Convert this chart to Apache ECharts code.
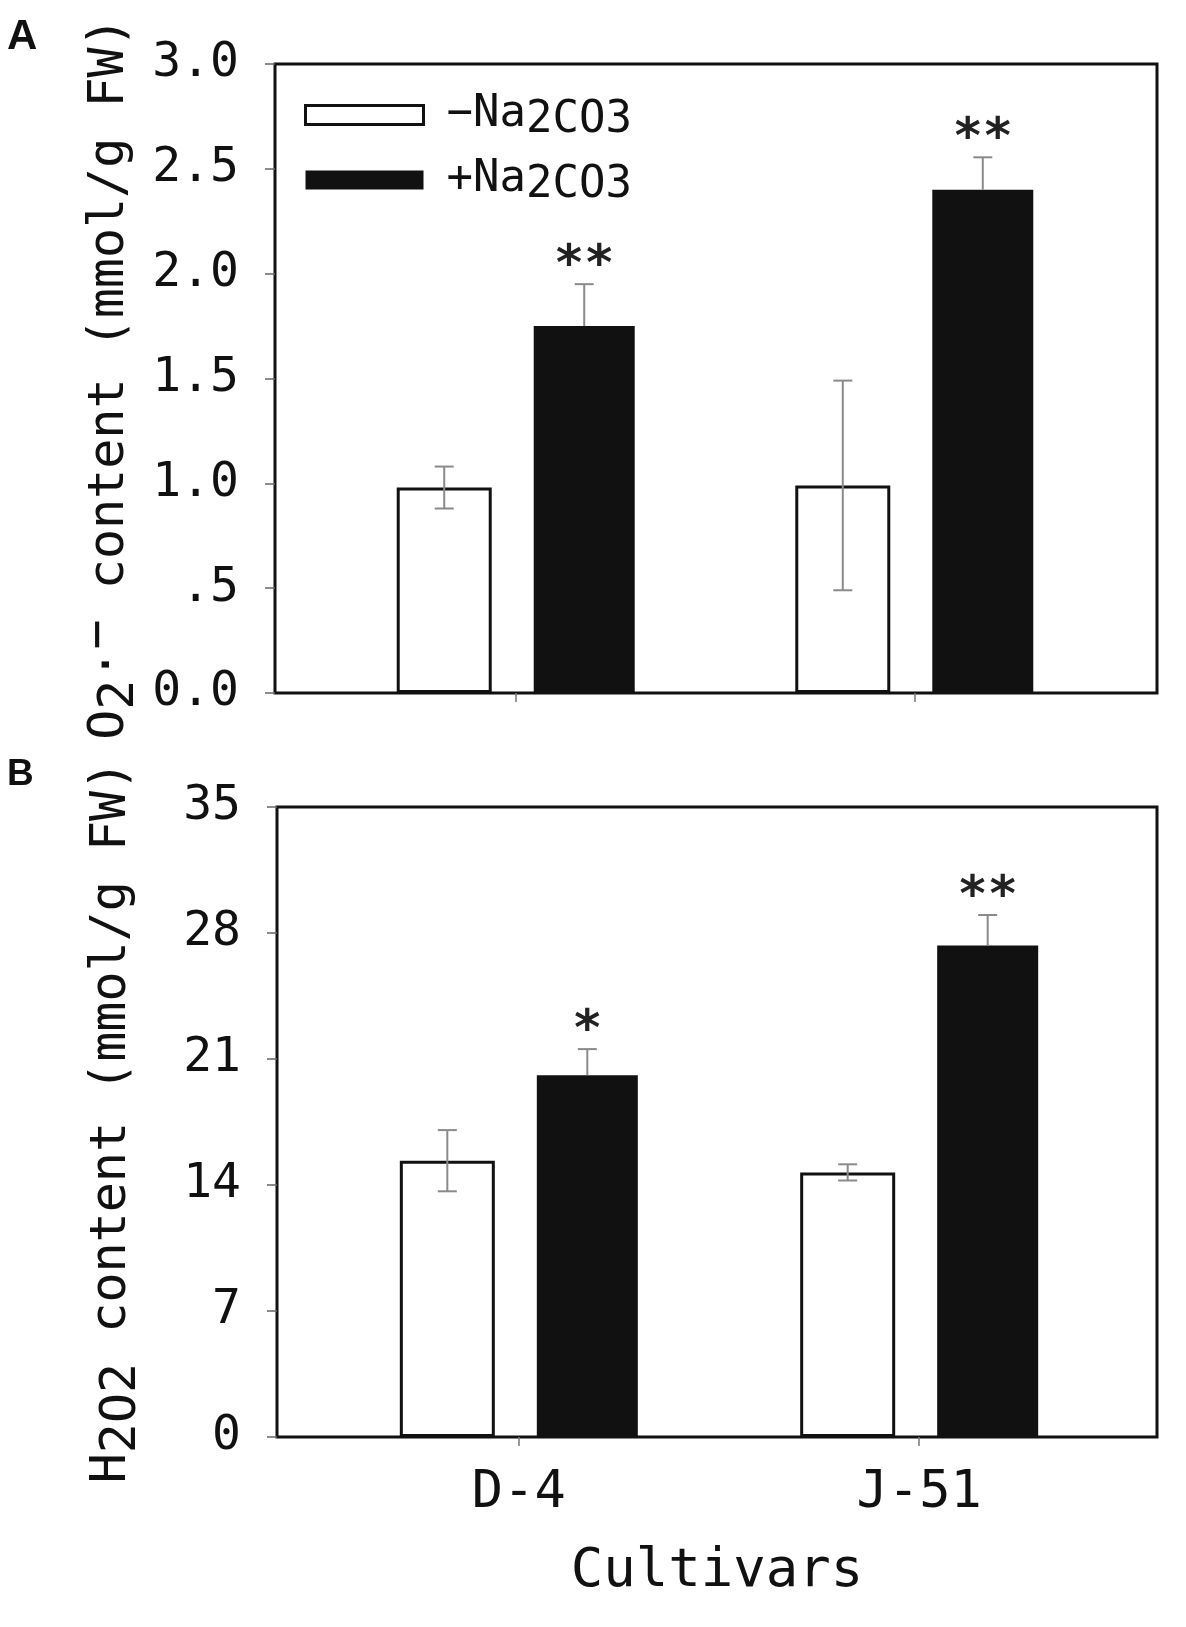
<!DOCTYPE html>
<html>
<head>
<meta charset="utf-8">
<script src="https://cdn.jsdelivr.net/npm/echarts@6/dist/echarts.min.js"></script>
<style>
html,body{margin:0;padding:0;background:#fff;}
#chart{width:1186px;height:1627px;}
</style>
</head>
<body>
<div id="chart"></div>
<script>
// ---------- data ----------
const cultivars = ['D-4', 'J-51'];
const seriesNames = ['\u2212Na2CO3', '+Na2CO3'];

// Panel A: O2·− content (mmol/g FW)
const o2Minus = [0.98, 0.99];
const o2MinusErr = [0.10, 0.50];
const o2Plus = [1.75, 2.40];
const o2PlusErr = [0.20, 0.155];
const o2MinusSig = ['', ''];
const o2PlusSig = ['**', '**'];
const yTicksA = [0, 0.5, 1, 1.5, 2, 2.5, 3];
const yTickLabelsA = ['0.0', '.5', '1.0', '1.5', '2.0', '2.5', '3.0'];

// Panel B: H2O2 content (mmol/g FW)
const h2o2Minus = [15.35, 14.7];
const h2o2MinusErr = [1.7, 0.45];
const h2o2Plus = [20.1, 27.3];
const h2o2PlusErr = [1.45, 1.7];
const h2o2MinusSig = ['', ''];
const h2o2PlusSig = ['*', '**'];
const yTicksB = [0, 7, 14, 21, 28, 35];
const yTickLabelsB = ['0', '7', '14', '21', '28', '35'];

// ---------- style ----------
const MONO = "'DejaVu Sans Mono', monospace";
const INK = '#111';
const ERR = '#8a8a8a';
const barW = [95, 101];
const gapPx = 42;
const gapPct = (gapPx / barW[0] * 100) + '%';
const total = barW[0] + gapPx + barW[1];
const offMinus = -total / 2 + barW[0] / 2;
const offPlus = total / 2 - barW[1] / 2;
const catIdx = cultivars.map((c, i) => i);

function errRender(offset, sig, both) {
  return function (params, api) {
    const i = params.dataIndex;
    const x = api.value(0), v = api.value(1), e = api.value(2);
    const pTop = api.coord([x, v + e]);
    const pMid = api.coord([x, v]);
    const pBot = api.coord([x, v - e]);
    const cx = pMid[0] + offset;
    const cap = 19;
    const ls = { stroke: ERR, lineWidth: 2 };
    const ch = [
      { type: 'line', shape: { x1: cx, y1: pTop[1], x2: cx, y2: both ? pBot[1] : pMid[1] }, style: ls },
      { type: 'line', shape: { x1: cx - cap / 2, y1: pTop[1], x2: cx + cap / 2, y2: pTop[1] }, style: ls }
    ];
    if (both) ch.push({ type: 'line', shape: { x1: cx - cap / 2, y1: pBot[1], x2: cx + cap / 2, y2: pBot[1] }, style: ls });
    if (sig[i]) ch.push({ type: 'text', x: cx, y: pTop[1] - 17,
      style: { text: sig[i], fontFamily: MONO, fontWeight: 'bold', fontSize: 50, fill: '#222', align: 'center', verticalAlign: 'middle' } });
    return { type: 'group', children: ch };
  };
}

function titleRich(size) {
  const base = { fontFamily: MONO, fontSize: size, color: INK, lineHeight: 70 };
  return {
    n: Object.assign({}, base, { verticalAlign: 'middle' }),
    s: Object.assign({}, base, { verticalAlign: 'bottom' }),
    p: Object.assign({}, base, { verticalAlign: 'top' })
  };
}

const gridA = { left: 275, right: 29, top: 64, height: 629 };
const gridB = { left: 277, right: 29, top: 807, height: 630 };

function xAxisCfg(gridIndex, min, max, showLabels) {
  return {
    type: 'value', gridIndex, min, max,
    axisLine: { show: false, onZero: false },
    splitLine: { show: false },
    axisTick: { show: true, customValues: catIdx, length: 9, lineStyle: { color: '#777', width: 1.5 } },
    axisLabel: {
      show: showLabels, customValues: catIdx, margin: 30,
      formatter: v => cultivars[Math.round(v)] || '',
      fontFamily: MONO, fontSize: 52, color: INK
    }
  };
}

function yAxisCfg(gridIndex, max, interval, ticks, labels, name, nameSize) {
  return {
    type: 'value', gridIndex, min: 0, max, interval,
    axisLine: { show: false, onZero: false },
    splitLine: { show: false },
    axisTick: { show: true, length: 10, lineStyle: { color: '#666', width: 1.5 } },
    axisLabel: {
      margin: 36, fontFamily: MONO, fontSize: 48, color: INK,
      formatter: v => { const k = ticks.findIndex(t => Math.abs(t - v) < 1e-9); return k >= 0 ? labels[k] : ''; }
    },
    name, nameLocation: 'middle', nameRotate: 90, nameGap: 130, nameMoveOverlap: false,
    nameTextStyle: { fontFamily: MONO, fontSize: nameSize, color: INK, rich: titleRich(nameSize) }
  };
}

const xA = xAxisCfg(0, -0.604, 1.609, false);
const xB = xAxisCfg(1, -0.604, 1.594, true);
xB.name = 'Cultivars';
xB.nameLocation = 'middle';
xB.nameGap = 108;
xB.nameTextStyle = { fontFamily: MONO, fontSize: 54, color: INK };

const option = {
  animation: false,
  backgroundColor: '#fff',
  title: [
    { text: 'A', left: 7, top: 16, padding: 0, textStyle: { fontFamily: 'Liberation Sans, Arial, sans-serif', fontWeight: 'bold', fontSize: 42, color: INK } },
    { text: 'B', left: 7, top: 756, padding: 0, textStyle: { fontFamily: 'Liberation Sans, Arial, sans-serif', fontWeight: 'bold', fontSize: 37, color: INK } }
  ],
  legend: {
    orient: 'vertical', left: 304, top: 93, padding: 0, itemGap: 15,
    itemWidth: 118, itemHeight: 19, icon: 'rect', selectedMode: false,
    data: [
      { name: seriesNames[0], itemStyle: { color: '#fff', borderColor: INK, borderWidth: 3 } },
      { name: seriesNames[1], itemStyle: { color: INK, borderWidth: 0 } }
    ],
    formatter: nm => '{n|' + nm.slice(0, 3) + '}{s|' + nm.slice(3) + '}',
    textStyle: {
      padding: [0, 0, 0, 18],
      rich: {
        n: { fontFamily: MONO, fontSize: 44, color: INK, lineHeight: 56, verticalAlign: 'middle' },
        s: { fontFamily: MONO, fontSize: 44, color: INK, lineHeight: 56, verticalAlign: 'bottom' }
      }
    }
  },
  grid: [
    Object.assign({ show: true, borderColor: INK, borderWidth: 3, outerBoundsMode: 'none', containLabel: false }, gridA),
    Object.assign({ show: true, borderColor: INK, borderWidth: 3, outerBoundsMode: 'none', containLabel: false }, gridB)
  ],
  xAxis: [xA, xB],
  yAxis: [
    yAxisCfg(0, 3, 0.5, yTicksA, yTickLabelsA, '{n|O}{s|2}{n|\u00b7}{p|\u2212}{n| content (mmol/g FW)}', 50),
    yAxisCfg(1, 35, 7, yTicksB, yTickLabelsB, '{n|H}{s|2O2}{n| content (mmol/g FW)}', 50)
  ],
  series: [
    { name: seriesNames[0], type: 'bar', xAxisIndex: 0, yAxisIndex: 0, barWidth: barW[0], barGap: gapPct,
      data: catIdx.map(i => [i, o2Minus[i]]), itemStyle: { color: '#fff', borderColor: INK, borderWidth: 3 } },
    { name: seriesNames[1], type: 'bar', xAxisIndex: 0, yAxisIndex: 0, barWidth: barW[1], barGap: gapPct,
      data: catIdx.map(i => [i, o2Plus[i]]), itemStyle: { color: INK, borderWidth: 0 } },
    { name: seriesNames[0], type: 'bar', xAxisIndex: 1, yAxisIndex: 1, barWidth: barW[0], barGap: gapPct,
      data: catIdx.map(i => [i, h2o2Minus[i]]), itemStyle: { color: '#fff', borderColor: INK, borderWidth: 3 } },
    { name: seriesNames[1], type: 'bar', xAxisIndex: 1, yAxisIndex: 1, barWidth: barW[1], barGap: gapPct,
      data: catIdx.map(i => [i, h2o2Plus[i]]), itemStyle: { color: INK, borderWidth: 0 } },
    { type: 'custom', xAxisIndex: 0, yAxisIndex: 0, z: 5, encode: { x: 0, y: 1 },
      data: catIdx.map(i => [i, o2Minus[i], o2MinusErr[i]]), renderItem: errRender(offMinus, o2MinusSig, true) },
    { type: 'custom', xAxisIndex: 0, yAxisIndex: 0, z: 5, encode: { x: 0, y: 1 },
      data: catIdx.map(i => [i, o2Plus[i], o2PlusErr[i]]), renderItem: errRender(offPlus, o2PlusSig, false) },
    { type: 'custom', xAxisIndex: 1, yAxisIndex: 1, z: 5, encode: { x: 0, y: 1 },
      data: catIdx.map(i => [i, h2o2Minus[i], h2o2MinusErr[i]]), renderItem: errRender(offMinus, h2o2MinusSig, true) },
    { type: 'custom', xAxisIndex: 1, yAxisIndex: 1, z: 5, encode: { x: 0, y: 1 },
      data: catIdx.map(i => [i, h2o2Plus[i], h2o2PlusErr[i]]), renderItem: errRender(offPlus, h2o2PlusSig, false) }
  ]
};

const chart = echarts.init(document.getElementById('chart'), null, { renderer: 'canvas' });
chart.setOption(option);
</script>
</body>
</html>
